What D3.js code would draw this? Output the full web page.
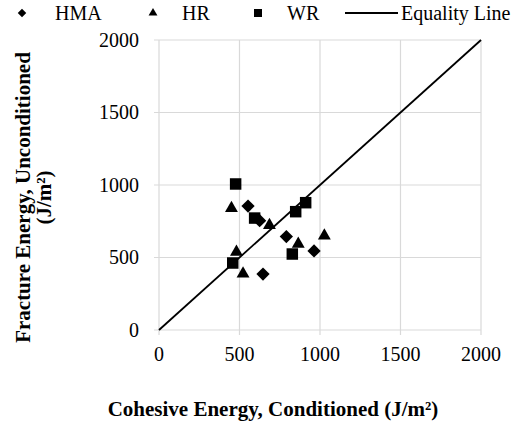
<!DOCTYPE html>
<html>
<head>
<meta charset="utf-8">
<script src="https://cdn.jsdelivr.net/npm/d3@7"></script>
<style>
  html, body { margin: 0; padding: 0; background: #fff; }
  svg { display: block; }
</style>
</head>
<body>
<svg id="chart" width="531" height="425"></svg>
<script>
const seriesNames = ["HMA", "HR", "WR"];
const hmaX = [553, 625, 791, 963, 646];
const hmaY = [855, 754, 644, 545, 386];
const hrX = [450, 686, 1027, 865, 481, 522];
const hrY = [840, 722, 650, 593, 538, 388];
const wrX = [476, 594, 849, 911, 828, 458];
const wrY = [1007, 772, 816, 878, 524, 462];
const ticks = [0, 500, 1000, 1500, 2000];
const equality = [0, 2000];

const FONT = '"Liberation Serif", "Times New Roman", Tinos, serif';
const FS = 20;
const svg = d3.select("#chart");
const x = d3.scaleLinear().domain([0, 2000]).range([159, 481]);
const y = d3.scaleLinear().domain([0, 2000]).range([330, 40]);
const grid = "#d9d9d9";

function txt(sel, fs) { return sel.style("font-family", FONT).attr("font-size", fs || FS).attr("fill", "#000"); }

// gridlines
svg.append("g").selectAll("line").data(ticks).join("line")
  .attr("x1", d => x(d)).attr("x2", d => x(d))
  .attr("y1", y(2000)).attr("y2", y(0) + 5)
  .attr("stroke", grid).attr("stroke-width", 1.2);
svg.append("g").selectAll("line").data(ticks).join("line")
  .attr("x1", x(0) - 5).attr("x2", x(2000))
  .attr("y1", d => y(d)).attr("y2", d => y(d))
  .attr("stroke", grid).attr("stroke-width", 1.2);

// tick labels
txt(svg.append("g").selectAll("text").data(ticks).join("text"))
  .attr("x", d => x(d)).attr("y", 361)
  .attr("text-anchor", "middle")
  .text(d => d);
txt(svg.append("g").selectAll("text").data(ticks).join("text"))
  .attr("x", 139).attr("y", d => y(d) + 6.7)
  .attr("text-anchor", "end")
  .text(d => d);

// equality line
svg.append("line")
  .attr("x1", x(equality[0])).attr("y1", y(equality[0]))
  .attr("x2", x(equality[1])).attr("y2", y(equality[1]))
  .attr("stroke", "#000").attr("stroke-width", 1.8);

const diamond = d3.symbol().type(d3.symbolSquare).size(88);
const tri = d3.symbol().type(d3.symbolTriangle).size(72);
const sq = d3.symbol().type(d3.symbolSquare).size(132);

const hma = hmaX.map((v, i) => [v, hmaY[i]]);
const hr = hrX.map((v, i) => [v, hrY[i]]);
const wr = wrX.map((v, i) => [v, wrY[i]]);

svg.append("g").selectAll("path").data(hma).join("path")
  .attr("d", diamond)
  .attr("transform", d => `translate(${x(d[0])},${y(d[1])}) rotate(45)`)
  .attr("fill", "#000");
svg.append("g").selectAll("path").data(hr).join("path")
  .attr("d", tri)
  .attr("transform", d => `translate(${x(d[0])},${y(d[1])})`)
  .attr("fill", "#000");
svg.append("g").selectAll("path").data(wr).join("path")
  .attr("d", sq)
  .attr("transform", d => `translate(${x(d[0])},${y(d[1])})`)
  .attr("fill", "#000");

// legend
const lg = svg.append("g");
lg.append("path").attr("d", d3.symbol().type(d3.symbolSquare).size(36))
  .attr("transform", "translate(22,13) rotate(45)");
txt(lg.append("text")).attr("x", 55).attr("y", 20).text(seriesNames[0]);
lg.append("path").attr("d", d3.symbol().type(d3.symbolTriangle).size(34))
  .attr("transform", "translate(153,13)");
txt(lg.append("text")).attr("x", 182).attr("y", 20).text(seriesNames[1]);
lg.append("path").attr("d", d3.symbol().type(d3.symbolSquare).size(64))
  .attr("transform", "translate(258,13)");
txt(lg.append("text")).attr("x", 287).attr("y", 20).text(seriesNames[2]);
lg.append("line").attr("x1", 345).attr("x2", 398).attr("y1", 13).attr("y2", 13)
  .attr("stroke", "#000").attr("stroke-width", 1.8);
txt(lg.append("text")).attr("x", 401).attr("y", 20).text("Equality Line");

// axis titles
txt(svg.append("text"), 21).attr("x", 273).attr("y", 415.5)
  .attr("text-anchor", "middle").attr("font-weight", "bold")
  .text("Cohesive Energy, Conditioned (J/m²)");
const yt = txt(svg.append("text"), 21).attr("transform", "translate(29.5,197.5) rotate(-90)")
  .attr("text-anchor", "middle").attr("font-weight", "bold");
yt.append("tspan").attr("x", 0).attr("y", 0).text("Fracture Energy, Unconditioned");
yt.append("tspan").attr("x", 0).attr("y", 21).text("(J/m²)");
</script>
</body>
</html>
